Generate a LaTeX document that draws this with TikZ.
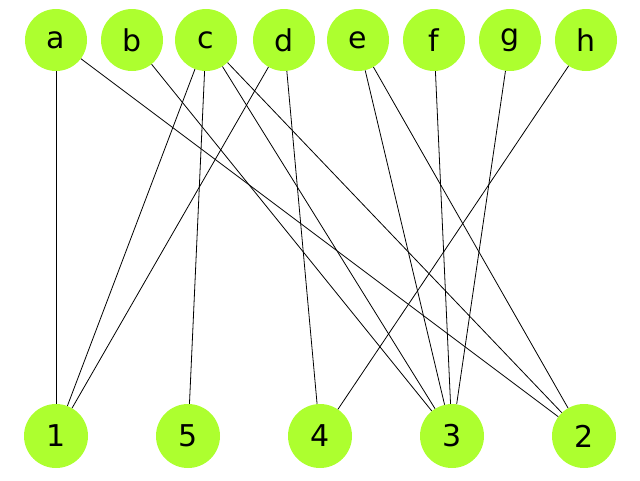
\documentclass[tikz,border=0pt]{standalone}
\usepackage{fontspec}
\setmainfont{DejaVu Sans}
\begin{document}
\begin{tikzpicture}[x=1pt,y=-1pt,
  vert/.style={circle,fill={rgb,255:red,173;green,255;blue,47},minimum size=62pt,inner sep=0pt,font=\fontsize{30}{30}\selectfont},
  edge/.style={draw=black,line width=0.8pt}]
\useasboundingbox (0,0) rectangle (640,480);
\foreach \n/\x in {a/56,b/132,c/206,d/284,e/358,f/434,g/510,h/586}
  \node[vert] (\n) at (\x,40) {\n};
\foreach \n/\x in {1/56,5/188,4/320,3/452,2/584}
  \node[vert,minimum size=64pt] (n\n) at (\x,436) {\n};
\foreach \s/\t in {a/1,a/2,b/3,c/1,c/5,c/3,c/2,d/1,d/4,e/3,e/2,f/3,g/3,h/4}
  \draw[edge] (\s) -- (n\t);
\end{tikzpicture}
\end{document}
